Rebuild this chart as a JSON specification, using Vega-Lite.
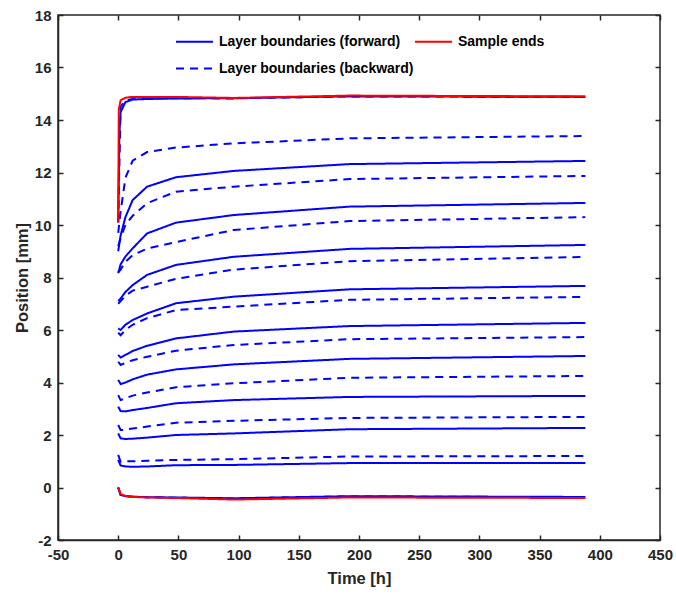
{
  "$schema": "https://vega.github.io/schema/vega-lite/v6.json",
  "width": 602,
  "height": 525,
  "autosize": "none",
  "padding": {"left": 58, "top": 15, "right": 16, "bottom": 57},
  "background": "white",
  "config": {
    "font": "Liberation Sans",
    "view": {"stroke": "#262626", "strokeWidth": 1.5},
    "axis": {
      "labelFont": "Liberation Sans", "labelFontWeight": "bold", "labelFontSize": 15, "labelColor": "#262626",
      "titleFont": "Liberation Sans", "titleFontWeight": "bold", "titleFontSize": 16.5, "titleColor": "#262626",
      "grid": false, "domainColor": "#262626", "domainWidth": 1.5, "tickColor": "#262626", "tickWidth": 1.5, "tickSize": -5
    }
  },
  "data": {"values": [
    {"t":0,"y":10.1,"k":"R1","s":"Sample ends"},{"t":0.5,"y":14.4,"k":"R1","s":"Sample ends"},{"t":2,"y":14.75,"k":"R1","s":"Sample ends"},{"t":6,"y":14.85,"k":"R1","s":"Sample ends"},{"t":12,"y":14.88,"k":"R1","s":"Sample ends"},{"t":24,"y":14.88,"k":"R1","s":"Sample ends"},{"t":48,"y":14.88,"k":"R1","s":"Sample ends"},{"t":96,"y":14.84,"k":"R1","s":"Sample ends"},{"t":192,"y":14.93,"k":"R1","s":"Sample ends"},{"t":388,"y":14.9,"k":"R1","s":"Sample ends"},
    {"t":0,"y":0,"k":"R0","s":"Sample ends"},{"t":2,"y":-0.25,"k":"R0","s":"Sample ends"},{"t":6,"y":-0.32,"k":"R0","s":"Sample ends"},{"t":12,"y":-0.36,"k":"R0","s":"Sample ends"},{"t":24,"y":-0.38,"k":"R0","s":"Sample ends"},{"t":48,"y":-0.4,"k":"R0","s":"Sample ends"},{"t":96,"y":-0.46,"k":"R0","s":"Sample ends"},{"t":192,"y":-0.38,"k":"R0","s":"Sample ends"},{"t":388,"y":-0.4,"k":"R0","s":"Sample ends"},

    {"t":0,"y":10.1,"k":"F10","s":"Layer boundaries (forward)"},{"t":1,"y":13.5,"k":"F10","s":"Layer boundaries (forward)"},{"t":2,"y":14.3,"k":"F10","s":"Layer boundaries (forward)"},{"t":6,"y":14.68,"k":"F10","s":"Layer boundaries (forward)"},{"t":12,"y":14.78,"k":"F10","s":"Layer boundaries (forward)"},{"t":24,"y":14.8,"k":"F10","s":"Layer boundaries (forward)"},{"t":48,"y":14.82,"k":"F10","s":"Layer boundaries (forward)"},{"t":96,"y":14.83,"k":"F10","s":"Layer boundaries (forward)"},{"t":192,"y":14.9,"k":"F10","s":"Layer boundaries (forward)"},{"t":388,"y":14.88,"k":"F10","s":"Layer boundaries (forward)"},
    {"t":0,"y":9.0,"k":"F9","s":"Layer boundaries (forward)"},{"t":2,"y":9.6,"k":"F9","s":"Layer boundaries (forward)"},{"t":6,"y":10.3,"k":"F9","s":"Layer boundaries (forward)"},{"t":12,"y":10.95,"k":"F9","s":"Layer boundaries (forward)"},{"t":24,"y":11.46,"k":"F9","s":"Layer boundaries (forward)"},{"t":48,"y":11.82,"k":"F9","s":"Layer boundaries (forward)"},{"t":96,"y":12.06,"k":"F9","s":"Layer boundaries (forward)"},{"t":192,"y":12.32,"k":"F9","s":"Layer boundaries (forward)"},{"t":388,"y":12.44,"k":"F9","s":"Layer boundaries (forward)"},
    {"t":0,"y":8.16,"k":"F8","s":"Layer boundaries (forward)"},{"t":2,"y":8.5,"k":"F8","s":"Layer boundaries (forward)"},{"t":6,"y":8.8,"k":"F8","s":"Layer boundaries (forward)"},{"t":12,"y":9.11,"k":"F8","s":"Layer boundaries (forward)"},{"t":24,"y":9.68,"k":"F8","s":"Layer boundaries (forward)"},{"t":48,"y":10.09,"k":"F8","s":"Layer boundaries (forward)"},{"t":96,"y":10.38,"k":"F8","s":"Layer boundaries (forward)"},{"t":192,"y":10.7,"k":"F8","s":"Layer boundaries (forward)"},{"t":388,"y":10.84,"k":"F8","s":"Layer boundaries (forward)"},
    {"t":0,"y":7.1,"k":"F7","s":"Layer boundaries (forward)"},{"t":2,"y":7.2,"k":"F7","s":"Layer boundaries (forward)"},{"t":6,"y":7.45,"k":"F7","s":"Layer boundaries (forward)"},{"t":12,"y":7.71,"k":"F7","s":"Layer boundaries (forward)"},{"t":24,"y":8.1,"k":"F7","s":"Layer boundaries (forward)"},{"t":48,"y":8.48,"k":"F7","s":"Layer boundaries (forward)"},{"t":96,"y":8.79,"k":"F7","s":"Layer boundaries (forward)"},{"t":192,"y":9.09,"k":"F7","s":"Layer boundaries (forward)"},{"t":388,"y":9.24,"k":"F7","s":"Layer boundaries (forward)"},
    {"t":0,"y":6.06,"k":"F6","s":"Layer boundaries (forward)"},{"t":2,"y":6.0,"k":"F6","s":"Layer boundaries (forward)"},{"t":6,"y":6.2,"k":"F6","s":"Layer boundaries (forward)"},{"t":12,"y":6.38,"k":"F6","s":"Layer boundaries (forward)"},{"t":24,"y":6.63,"k":"F6","s":"Layer boundaries (forward)"},{"t":48,"y":7.02,"k":"F6","s":"Layer boundaries (forward)"},{"t":96,"y":7.27,"k":"F6","s":"Layer boundaries (forward)"},{"t":192,"y":7.55,"k":"F6","s":"Layer boundaries (forward)"},{"t":388,"y":7.68,"k":"F6","s":"Layer boundaries (forward)"},
    {"t":0,"y":5.05,"k":"F5","s":"Layer boundaries (forward)"},{"t":2,"y":4.95,"k":"F5","s":"Layer boundaries (forward)"},{"t":6,"y":5.05,"k":"F5","s":"Layer boundaries (forward)"},{"t":12,"y":5.2,"k":"F5","s":"Layer boundaries (forward)"},{"t":24,"y":5.4,"k":"F5","s":"Layer boundaries (forward)"},{"t":48,"y":5.68,"k":"F5","s":"Layer boundaries (forward)"},{"t":96,"y":5.94,"k":"F5","s":"Layer boundaries (forward)"},{"t":192,"y":6.15,"k":"F5","s":"Layer boundaries (forward)"},{"t":388,"y":6.27,"k":"F5","s":"Layer boundaries (forward)"},
    {"t":0,"y":4.1,"k":"F4","s":"Layer boundaries (forward)"},{"t":2,"y":3.94,"k":"F4","s":"Layer boundaries (forward)"},{"t":6,"y":4.0,"k":"F4","s":"Layer boundaries (forward)"},{"t":12,"y":4.12,"k":"F4","s":"Layer boundaries (forward)"},{"t":24,"y":4.3,"k":"F4","s":"Layer boundaries (forward)"},{"t":48,"y":4.5,"k":"F4","s":"Layer boundaries (forward)"},{"t":96,"y":4.69,"k":"F4","s":"Layer boundaries (forward)"},{"t":192,"y":4.9,"k":"F4","s":"Layer boundaries (forward)"},{"t":388,"y":5.01,"k":"F4","s":"Layer boundaries (forward)"},
    {"t":0,"y":3.08,"k":"F3","s":"Layer boundaries (forward)"},{"t":2,"y":2.91,"k":"F3","s":"Layer boundaries (forward)"},{"t":6,"y":2.9,"k":"F3","s":"Layer boundaries (forward)"},{"t":12,"y":2.95,"k":"F3","s":"Layer boundaries (forward)"},{"t":24,"y":3.03,"k":"F3","s":"Layer boundaries (forward)"},{"t":48,"y":3.21,"k":"F3","s":"Layer boundaries (forward)"},{"t":96,"y":3.33,"k":"F3","s":"Layer boundaries (forward)"},{"t":192,"y":3.45,"k":"F3","s":"Layer boundaries (forward)"},{"t":388,"y":3.49,"k":"F3","s":"Layer boundaries (forward)"},
    {"t":0,"y":2.06,"k":"F2","s":"Layer boundaries (forward)"},{"t":2,"y":1.87,"k":"F2","s":"Layer boundaries (forward)"},{"t":6,"y":1.85,"k":"F2","s":"Layer boundaries (forward)"},{"t":12,"y":1.86,"k":"F2","s":"Layer boundaries (forward)"},{"t":24,"y":1.9,"k":"F2","s":"Layer boundaries (forward)"},{"t":48,"y":2.0,"k":"F2","s":"Layer boundaries (forward)"},{"t":96,"y":2.06,"k":"F2","s":"Layer boundaries (forward)"},{"t":192,"y":2.22,"k":"F2","s":"Layer boundaries (forward)"},{"t":388,"y":2.27,"k":"F2","s":"Layer boundaries (forward)"},
    {"t":0,"y":1.05,"k":"F1","s":"Layer boundaries (forward)"},{"t":2,"y":0.84,"k":"F1","s":"Layer boundaries (forward)"},{"t":6,"y":0.8,"k":"F1","s":"Layer boundaries (forward)"},{"t":12,"y":0.79,"k":"F1","s":"Layer boundaries (forward)"},{"t":24,"y":0.8,"k":"F1","s":"Layer boundaries (forward)"},{"t":48,"y":0.85,"k":"F1","s":"Layer boundaries (forward)"},{"t":96,"y":0.86,"k":"F1","s":"Layer boundaries (forward)"},{"t":192,"y":0.93,"k":"F1","s":"Layer boundaries (forward)"},{"t":388,"y":0.93,"k":"F1","s":"Layer boundaries (forward)"},
    {"t":0,"y":0,"k":"F0","s":"Layer boundaries (forward)"},{"t":2,"y":-0.28,"k":"F0","s":"Layer boundaries (forward)"},{"t":6,"y":-0.33,"k":"F0","s":"Layer boundaries (forward)"},{"t":12,"y":-0.35,"k":"F0","s":"Layer boundaries (forward)"},{"t":24,"y":-0.37,"k":"F0","s":"Layer boundaries (forward)"},{"t":48,"y":-0.38,"k":"F0","s":"Layer boundaries (forward)"},{"t":96,"y":-0.41,"k":"F0","s":"Layer boundaries (forward)"},{"t":192,"y":-0.33,"k":"F0","s":"Layer boundaries (forward)"},{"t":388,"y":-0.36,"k":"F0","s":"Layer boundaries (forward)"},

    {"t":0,"y":10.1,"k":"B10","s":"Layer boundaries (backward)"},{"t":2,"y":14.5,"k":"B10","s":"Layer boundaries (backward)"},{"t":6,"y":14.75,"k":"B10","s":"Layer boundaries (backward)"},{"t":12,"y":14.8,"k":"B10","s":"Layer boundaries (backward)"},{"t":24,"y":14.82,"k":"B10","s":"Layer boundaries (backward)"},{"t":48,"y":14.83,"k":"B10","s":"Layer boundaries (backward)"},{"t":96,"y":14.82,"k":"B10","s":"Layer boundaries (backward)"},{"t":192,"y":14.9,"k":"B10","s":"Layer boundaries (backward)"},{"t":388,"y":14.88,"k":"B10","s":"Layer boundaries (backward)"},
    {"t":0,"y":9.7,"k":"B9","s":"Layer boundaries (backward)"},{"t":2,"y":10.5,"k":"B9","s":"Layer boundaries (backward)"},{"t":6,"y":11.8,"k":"B9","s":"Layer boundaries (backward)"},{"t":12,"y":12.45,"k":"B9","s":"Layer boundaries (backward)"},{"t":24,"y":12.78,"k":"B9","s":"Layer boundaries (backward)"},{"t":48,"y":12.95,"k":"B9","s":"Layer boundaries (backward)"},{"t":96,"y":13.11,"k":"B9","s":"Layer boundaries (backward)"},{"t":192,"y":13.3,"k":"B9","s":"Layer boundaries (backward)"},{"t":388,"y":13.39,"k":"B9","s":"Layer boundaries (backward)"},
    {"t":0,"y":9.2,"k":"B8","s":"Layer boundaries (backward)"},{"t":2,"y":9.5,"k":"B8","s":"Layer boundaries (backward)"},{"t":6,"y":10.0,"k":"B8","s":"Layer boundaries (backward)"},{"t":12,"y":10.35,"k":"B8","s":"Layer boundaries (backward)"},{"t":24,"y":10.83,"k":"B8","s":"Layer boundaries (backward)"},{"t":48,"y":11.27,"k":"B8","s":"Layer boundaries (backward)"},{"t":96,"y":11.46,"k":"B8","s":"Layer boundaries (backward)"},{"t":192,"y":11.75,"k":"B8","s":"Layer boundaries (backward)"},{"t":388,"y":11.87,"k":"B8","s":"Layer boundaries (backward)"},
    {"t":0,"y":8.2,"k":"B7","s":"Layer boundaries (backward)"},{"t":2,"y":8.3,"k":"B7","s":"Layer boundaries (backward)"},{"t":6,"y":8.6,"k":"B7","s":"Layer boundaries (backward)"},{"t":12,"y":8.85,"k":"B7","s":"Layer boundaries (backward)"},{"t":24,"y":9.1,"k":"B7","s":"Layer boundaries (backward)"},{"t":48,"y":9.35,"k":"B7","s":"Layer boundaries (backward)"},{"t":96,"y":9.81,"k":"B7","s":"Layer boundaries (backward)"},{"t":192,"y":10.15,"k":"B7","s":"Layer boundaries (backward)"},{"t":388,"y":10.3,"k":"B7","s":"Layer boundaries (backward)"},
    {"t":0,"y":7.0,"k":"B6","s":"Layer boundaries (backward)"},{"t":2,"y":7.1,"k":"B6","s":"Layer boundaries (backward)"},{"t":6,"y":7.3,"k":"B6","s":"Layer boundaries (backward)"},{"t":12,"y":7.5,"k":"B6","s":"Layer boundaries (backward)"},{"t":24,"y":7.65,"k":"B6","s":"Layer boundaries (backward)"},{"t":48,"y":7.95,"k":"B6","s":"Layer boundaries (backward)"},{"t":96,"y":8.3,"k":"B6","s":"Layer boundaries (backward)"},{"t":192,"y":8.62,"k":"B6","s":"Layer boundaries (backward)"},{"t":388,"y":8.78,"k":"B6","s":"Layer boundaries (backward)"},
    {"t":0,"y":5.9,"k":"B5","s":"Layer boundaries (backward)"},{"t":2,"y":5.8,"k":"B5","s":"Layer boundaries (backward)"},{"t":6,"y":6.0,"k":"B5","s":"Layer boundaries (backward)"},{"t":12,"y":6.2,"k":"B5","s":"Layer boundaries (backward)"},{"t":24,"y":6.45,"k":"B5","s":"Layer boundaries (backward)"},{"t":48,"y":6.76,"k":"B5","s":"Layer boundaries (backward)"},{"t":96,"y":6.89,"k":"B5","s":"Layer boundaries (backward)"},{"t":192,"y":7.15,"k":"B5","s":"Layer boundaries (backward)"},{"t":388,"y":7.26,"k":"B5","s":"Layer boundaries (backward)"},
    {"t":0,"y":4.79,"k":"B4","s":"Layer boundaries (backward)"},{"t":2,"y":4.67,"k":"B4","s":"Layer boundaries (backward)"},{"t":6,"y":4.75,"k":"B4","s":"Layer boundaries (backward)"},{"t":12,"y":4.85,"k":"B4","s":"Layer boundaries (backward)"},{"t":24,"y":4.98,"k":"B4","s":"Layer boundaries (backward)"},{"t":48,"y":5.21,"k":"B4","s":"Layer boundaries (backward)"},{"t":96,"y":5.43,"k":"B4","s":"Layer boundaries (backward)"},{"t":192,"y":5.65,"k":"B4","s":"Layer boundaries (backward)"},{"t":388,"y":5.73,"k":"B4","s":"Layer boundaries (backward)"},
    {"t":0,"y":3.52,"k":"B3","s":"Layer boundaries (backward)"},{"t":2,"y":3.33,"k":"B3","s":"Layer boundaries (backward)"},{"t":6,"y":3.4,"k":"B3","s":"Layer boundaries (backward)"},{"t":12,"y":3.5,"k":"B3","s":"Layer boundaries (backward)"},{"t":24,"y":3.62,"k":"B3","s":"Layer boundaries (backward)"},{"t":48,"y":3.82,"k":"B3","s":"Layer boundaries (backward)"},{"t":96,"y":3.97,"k":"B3","s":"Layer boundaries (backward)"},{"t":192,"y":4.18,"k":"B3","s":"Layer boundaries (backward)"},{"t":388,"y":4.25,"k":"B3","s":"Layer boundaries (backward)"},
    {"t":0,"y":2.38,"k":"B2","s":"Layer boundaries (backward)"},{"t":2,"y":2.19,"k":"B2","s":"Layer boundaries (backward)"},{"t":6,"y":2.2,"k":"B2","s":"Layer boundaries (backward)"},{"t":12,"y":2.25,"k":"B2","s":"Layer boundaries (backward)"},{"t":24,"y":2.32,"k":"B2","s":"Layer boundaries (backward)"},{"t":48,"y":2.47,"k":"B2","s":"Layer boundaries (backward)"},{"t":96,"y":2.54,"k":"B2","s":"Layer boundaries (backward)"},{"t":192,"y":2.65,"k":"B2","s":"Layer boundaries (backward)"},{"t":388,"y":2.69,"k":"B2","s":"Layer boundaries (backward)"},
    {"t":0,"y":1.24,"k":"B1","s":"Layer boundaries (backward)"},{"t":2,"y":0.98,"k":"B1","s":"Layer boundaries (backward)"},{"t":6,"y":1.0,"k":"B1","s":"Layer boundaries (backward)"},{"t":12,"y":1.0,"k":"B1","s":"Layer boundaries (backward)"},{"t":24,"y":1.02,"k":"B1","s":"Layer boundaries (backward)"},{"t":48,"y":1.05,"k":"B1","s":"Layer boundaries (backward)"},{"t":96,"y":1.08,"k":"B1","s":"Layer boundaries (backward)"},{"t":192,"y":1.18,"k":"B1","s":"Layer boundaries (backward)"},{"t":388,"y":1.2,"k":"B1","s":"Layer boundaries (backward)"},
    {"t":0,"y":0,"k":"B0","s":"Layer boundaries (backward)"},{"t":2,"y":-0.28,"k":"B0","s":"Layer boundaries (backward)"},{"t":6,"y":-0.33,"k":"B0","s":"Layer boundaries (backward)"},{"t":12,"y":-0.35,"k":"B0","s":"Layer boundaries (backward)"},{"t":24,"y":-0.37,"k":"B0","s":"Layer boundaries (backward)"},{"t":48,"y":-0.39,"k":"B0","s":"Layer boundaries (backward)"},{"t":96,"y":-0.42,"k":"B0","s":"Layer boundaries (backward)"},{"t":192,"y":-0.34,"k":"B0","s":"Layer boundaries (backward)"},{"t":388,"y":-0.37,"k":"B0","s":"Layer boundaries (backward)"}
  ]},
  "layer": [
    {
      "transform": [{"filter": "datum.s != 'Sample ends'"}],
      "mark": {"type": "line", "strokeWidth": 2, "strokeCap": "butt"},
      "encoding": {
        "x": {"field": "t", "type": "quantitative", "scale": {"domain": [-50, 450], "nice": false, "zero": false},
              "axis": {"title": "Time [h]", "values": [-50,0,50,100,150,200,250,300,350,400,450], "labelExpr": "toString(datum.value)", "labelPadding": 12, "titlePadding": 8, "labelFlush": false}},
        "y": {"field": "y", "type": "quantitative", "scale": {"domain": [-2, 18], "nice": false, "zero": false},
              "axis": {"title": "Position [mm]", "values": [-2,0,2,4,6,8,10,12,14,16,18], "labelExpr": "toString(datum.value)", "labelPadding": 12, "titlePadding": 4, "labelFlush": false}},
        "detail": {"field": "k"},
        "color": {"field": "s", "type": "nominal",
          "scale": {"domain": ["Layer boundaries (forward)", "Sample ends", "Layer boundaries (backward)"], "range": ["#0000ff", "#ff0000", "#0000ff"]},
          "legend": {"title": null, "orient": "none", "legendX": 117, "legendY": 7, "columns": 2, "direction": "horizontal",
                     "symbolType": "stroke", "symbolSize": 1369, "symbolStrokeWidth": 2, "labelFont": "Liberation Sans", "labelFontWeight": "bold",
                     "labelFontSize": 14, "labelColor": "#000000", "labelOffset": 5, "columnPadding": -3, "rowPadding": -17, "labelLimit": 400}},
        "strokeDash": {"field": "s", "type": "nominal",
          "scale": {"domain": ["Layer boundaries (forward)", "Sample ends", "Layer boundaries (backward)"], "range": [[1, 0], [1, 0], [8, 6]]},
          "legend": {"title": null, "orient": "none", "legendX": 117, "legendY": 7, "columns": 2, "direction": "horizontal",
                     "symbolType": "stroke", "symbolSize": 1369, "symbolStrokeWidth": 2, "labelFont": "Liberation Sans", "labelFontWeight": "bold",
                     "labelFontSize": 14, "labelColor": "#000000", "labelOffset": 5, "columnPadding": -3, "rowPadding": -17, "labelLimit": 400}}
      }
    },
    {
      "transform": [{"filter": "datum.s == 'Sample ends'"}],
      "mark": {"type": "line", "strokeWidth": 2, "strokeCap": "butt"},
      "encoding": {
        "x": {"field": "t", "type": "quantitative", "axis": null},
        "y": {"field": "y", "type": "quantitative", "axis": null},
        "detail": {"field": "k"},
        "color": {"field": "s", "type": "nominal"},
        "strokeDash": {"field": "s", "type": "nominal"}
      }
    },
    {
      "mark": {"type": "line", "opacity": 0},
      "encoding": {
        "detail": {"field": "k"},
        "x": {"field": "t", "type": "quantitative", "axis": {"orient": "top", "labels": false, "title": null, "domain": false, "values": [-50,0,50,100,150,200,250,300,350,400,450]}},
        "y": {"field": "y", "type": "quantitative", "axis": {"orient": "right", "labels": false, "title": null, "domain": false, "values": [-2,0,2,4,6,8,10,12,14,16,18]}}
      }
    }
  ],
  "resolve": {"axis": {"x": "independent", "y": "independent"}}
}
